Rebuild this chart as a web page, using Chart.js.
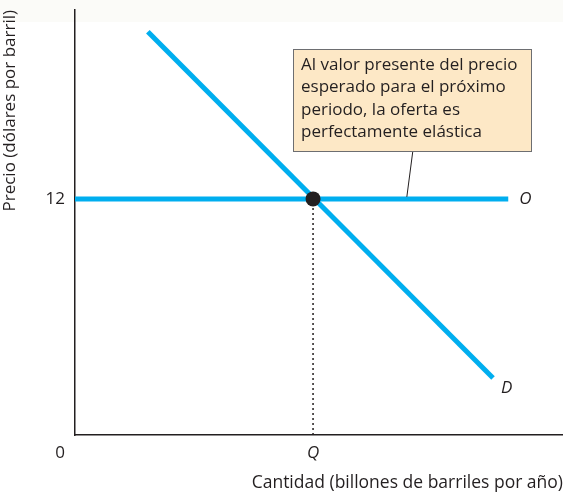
<!DOCTYPE html>
<html>
<head>
<meta charset="utf-8">
<script src="https://cdn.jsdelivr.net/npm/chart.js@4/dist/chart.umd.min.js"></script>
<style>
  html, body { margin: 0; padding: 0; background: #fff; }
  canvas { display: block; }
</style>
</head>
<body>
<canvas id="chart" width="563" height="497"></canvas>
<script>
// data (x: quantity units, y: dollars per barrel)
const supplyX = [0, 9.1];
const supplyY = [12, 12];
const demandX = [1.53, 8.78];
const demandY = [20.5, 2.9];
const equilibrium = { x: 5, y: 12 };
const xTicks = [5];
const xTickLabels = ['Q'];
const yTicks = [12];
const yTickLabels = ['12'];
const calloutLines = [
    'Al valor presente del precio',
    'esperado para el próximo',
    'periodo, la oferta es',
    'perfectamente elástica'
];
const calloutAnchor = { x: 6.97, y: 12 };

const FONT = '"Open Sans", "DejaVu Sans", sans-serif';
const INK = '#231f20';
const BLUE = '#00aeef';

const toPoints = (xs, ys) => xs.map((x, i) => ({ x: x, y: ys[i] }));

const extras = {
    id: 'extras',
    beforeDraw: (chart) => {
        const { ctx } = chart;
        ctx.save();
        ctx.fillStyle = '#fff';
        ctx.fillRect(0, 0, chart.width, chart.height);
        ctx.fillStyle = '#fbfbf8';
        ctx.fillRect(0, 0, chart.width, 22);
        ctx.restore();
    },
    afterDatasetsDraw: (chart) => {
        const { ctx, scales } = chart;
        const xs = scales.x, ys = scales.y;
        ctx.save();
        ctx.fillStyle = INK;
        ctx.textBaseline = 'middle';

        // origin label
        ctx.font = '17px ' + FONT;
        ctx.textAlign = 'center';
        ctx.fillText('0', xs.getPixelForValue(0) - 15, ys.getPixelForValue(0) + 18);

        // curve labels
        ctx.font = 'italic 17px ' + FONT;
        ctx.textAlign = 'left';
        ctx.fillText('O', xs.getPixelForValue(supplyX[1]) + 11, ys.getPixelForValue(supplyY[1]));
        ctx.fillText('D', xs.getPixelForValue(demandX[1]) + 8, ys.getPixelForValue(demandY[1]) + 10);

        // callout leader line
        const ax = xs.getPixelForValue(calloutAnchor.x);
        const ay = ys.getPixelForValue(calloutAnchor.y);
        const boxL = 293, boxT = 49, boxW = 238, boxH = 102;
        ctx.strokeStyle = INK;
        ctx.lineWidth = 1;
        ctx.beginPath();
        ctx.moveTo(ax, ay - 2);
        ctx.lineTo(ax + 6, boxT + boxH);
        ctx.stroke();

        // callout box
        ctx.fillStyle = '#fde8c6';
        ctx.fillRect(boxL, boxT, boxW, boxH);
        ctx.strokeStyle = '#6d6e71';
        ctx.strokeRect(boxL + 0.5, boxT + 0.5, boxW, boxH);
        ctx.fillStyle = INK;
        ctx.font = '17px ' + FONT;
        ctx.textAlign = 'left';
        calloutLines.forEach((line, i) => {
            ctx.fillText(line, boxL + 8, boxT + 16 + i * 22.5);
        });
        ctx.restore();
    }
};

const config = {
    type: 'scatter',
    data: {
        datasets: [
            {
                label: 'equilibrio',
                data: [equilibrium],
                backgroundColor: INK,
                borderColor: INK,
                pointRadius: 7.5,
                borderWidth: 0
            },
            {
                label: 'O',
                data: toPoints(supplyX, supplyY),
                showLine: true,
                borderColor: BLUE,
                borderWidth: 5,
                pointRadius: 0
            },
            {
                label: 'D',
                data: toPoints(demandX, demandY),
                showLine: true,
                borderColor: BLUE,
                borderWidth: 5,
                pointRadius: 0
            },
            {
                label: 'Q',
                data: [{ x: equilibrium.x, y: 0 }, { x: equilibrium.x, y: equilibrium.y }],
                showLine: true,
                borderColor: INK,
                borderWidth: 1.5,
                borderDash: [2, 3],
                pointRadius: 0
            }
        ]
    },
    options: {
        responsive: false,
        animation: false,
        layout: { autoPadding: false, padding: { top: 10, right: 0, left: 0, bottom: 0 } },
        plugins: {
            legend: { display: false },
            tooltip: { enabled: false }
        },
        scales: {
            x: {
                type: 'linear',
                min: 0,
                max: 10.25,
                afterFit: (s) => {
                    s.height = 62;
                    s.paddingLeft = 0;
                    s.paddingRight = 0;
                },
                afterBuildTicks: (s) => { s.ticks = xTicks.map(v => ({ value: v })); },
                grid: { display: false, drawTicks: false },
                border: { display: true, color: INK, width: 1.5 },
                ticks: {
                    padding: 8,
                    color: INK,
                    font: { family: FONT, size: 17, style: 'italic' },
                    callback: (v) => xTickLabels[xTicks.indexOf(v)]
                },
                title: {
                    display: true,
                    text: 'Cantidad (billones de barriles por año)',
                    align: 'end',
                    color: INK,
                    font: { family: FONT, size: 17.5 },
                    padding: { top: 4, bottom: 3 }
                }
            },
            y: {
                type: 'linear',
                min: 0,
                max: 21.6,
                afterFit: (s) => {
                    s.width = 75;
                    s.paddingTop = 0;
                    s.paddingBottom = 0;
                },
                afterBuildTicks: (s) => { s.ticks = yTicks.map(v => ({ value: v })); },
                grid: { display: false, drawTicks: false },
                border: { display: true, color: INK, width: 1.5 },
                ticks: {
                    padding: 10,
                    color: INK,
                    font: { family: FONT, size: 17 },
                    callback: (v) => yTickLabels[yTicks.indexOf(v)]
                },
                title: {
                    display: true,
                    text: 'Precio (dólares por barril)',
                    align: 'end',
                    color: INK,
                    font: { family: FONT, size: 17 },
                    padding: { top: 0, bottom: 2 }
                }
            }
        }
    },
    plugins: [extras]
};

const myChart = new Chart(document.getElementById('chart'), config);
</script>
</body>
</html>
